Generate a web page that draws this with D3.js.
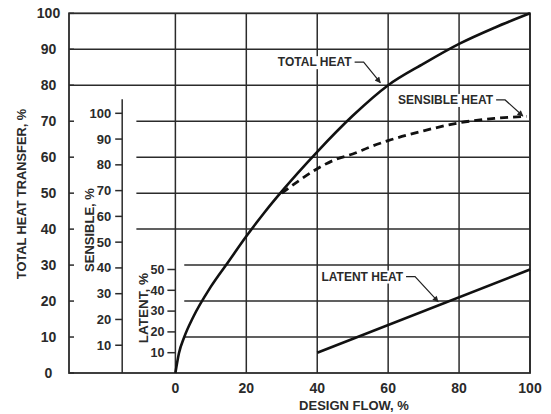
<!DOCTYPE html>
<html>
<head>
<meta charset="utf-8">
<script src="https://cdn.jsdelivr.net/npm/d3@7"></script>
<style>
  body { margin: 0; background: #fff; }
  svg text { font-family: "Liberation Sans", Arial, sans-serif; font-weight: bold; fill: #2a2a2a; }
</style>
</head>
<body>
<svg id="chart" width="551" height="414"></svg>
<script>
// values
var flowTicks = [0, 20, 40, 60, 80, 100];
var totalTicks = [0, 10, 20, 30, 40, 50, 60, 70, 80, 90, 100];
var sensibleTicks = [10, 20, 30, 40, 50, 60, 70, 80, 90, 100];
var latentTicks = [10, 20, 30, 40, 50];

var totalHeat = [[0, 0], [1, 5.5], [2.5, 10], [5, 15.5], [10, 24], [15, 31], [20, 38], [25, 44.5],
                 [30, 50.5], [40, 61.5], [50, 71.5], [60, 80], [70, 86], [80, 91.5], [90, 96], [100, 100]];
var sensibleHeat = [[30, 69], [35, 74], [40, 78.5], [45, 82], [50, 84.2], [55, 87], [60, 89.4],
                    [70, 93.2], [80, 96.3], [90, 98], [99, 98.8]];
var latentHeat = [[40, 10], [100, 50]];

var svg = d3.select("#chart");
var ink = "#2b2b2b";

// one x scale, three y scales (total / sensible / latent)
var x = d3.scaleLinear().domain([-30, 100]).range([69, 530]);
var yT = d3.scaleLinear().domain([0, 100]).range([373, 13.3]);
var yS = d3.scaleLinear().domain([0, 100]).range([371, 113.3]);
var yL = d3.scaleLinear().domain([0, 50]).range([373.5, 269.5]);

var grid = svg.append("g").attr("stroke", ink).attr("stroke-width", 1.5);

// horizontal grid: upper rows run the full width, lower ones stop short of the inner axes
function hRows(rows, from) {
    grid.selectAll(null).data(rows).enter().append("line")
        .attr("x1", x(from)).attr("x2", x(100))
        .attr("y1", d => yT(d)).attr("y2", d => yT(d));
}
hRows([80, 90], -30);
hRows([40, 50, 60, 70], -11);
hRows([10, 20, 30], 2.5);

// vertical grid
grid.selectAll(null).data(flowTicks).enter().append("line")
    .attr("x1", d => x(d)).attr("x2", d => x(d))
    .attr("y1", yT(0)).attr("y2", yT(100));

// frame
svg.append("rect")
   .attr("x", x(-30)).attr("y", yT(100))
   .attr("width", x(100) - x(-30)).attr("height", yT(0) - yT(100))
   .attr("fill", "none").attr("stroke", ink).attr("stroke-width", 1.8);

// outer (total) axis ticks + labels
grid.selectAll(null).data(totalTicks).enter().append("line")
    .attr("x1", x(-30)).attr("x2", x(-30) + 5)
    .attr("y1", d => yT(d)).attr("y2", d => yT(d));
svg.append("g").selectAll("text").data(totalTicks).enter().append("text")
   .attr("x", 48.5).attr("y", d => yT(d)).attr("dy", "0.35em")
   .attr("text-anchor", "middle").attr("font-size", 14)
   .text(d => d);

// sensible axis
grid.append("line")
    .attr("x1", x(-15)).attr("x2", x(-15))
    .attr("y1", yS(105.5)).attr("y2", yT(0));
grid.selectAll(null).data(sensibleTicks).enter().append("line")
    .attr("x1", x(-15) - 7).attr("x2", x(-15))
    .attr("y1", d => yS(d)).attr("y2", d => yS(d));
svg.append("g").selectAll("text").data(sensibleTicks).enter().append("text")
   .attr("x", x(-15) - 11).attr("y", d => yS(d)).attr("dy", "0.35em")
   .attr("text-anchor", "end").attr("font-size", 13)
   .text(d => d);

// latent axis (sits on the 0 % flow line)
grid.selectAll(null).data(latentTicks).enter().append("line")
    .attr("x1", x(0) - 8).attr("x2", x(0))
    .attr("y1", d => yL(d)).attr("y2", d => yL(d));
svg.append("g").selectAll("text").data(latentTicks).enter().append("text")
   .attr("x", x(0) - 11).attr("y", d => yL(d)).attr("dy", "0.35em")
   .attr("text-anchor", "end").attr("font-size", 12.5)
   .text(d => d);

// x labels
svg.append("g").selectAll("text").data(flowTicks).enter().append("text")
   .attr("x", d => x(d)).attr("y", 393)
   .attr("text-anchor", "middle").attr("font-size", 14)
   .text(d => d);
svg.append("text").attr("x", 354).attr("y", 410)
   .attr("text-anchor", "middle").attr("font-size", 13)
   .text("DESIGN FLOW, %");

// rotated axis titles
function vTitle(txt, cx, cy, size) {
    svg.append("text")
       .attr("transform", "translate(" + cx + "," + cy + ") rotate(-90)")
       .attr("text-anchor", "middle").attr("dy", "0.35em")
       .attr("font-size", size).text(txt);
}
vTitle("TOTAL HEAT TRANSFER, %", 22, 194, 12.8);
vTitle("SENSIBLE, %", 89, 230, 13);
vTitle("LATENT, %", 143, 308, 13.5);

// curves
var lineT = d3.line().x(d => x(d[0])).y(d => yT(d[1])).curve(d3.curveMonotoneX);
var lineS = d3.line().x(d => x(d[0])).y(d => yS(d[1])).curve(d3.curveMonotoneX);
var lineL = d3.line().x(d => x(d[0])).y(d => yL(d[1]));

svg.append("path").attr("d", lineT(totalHeat))
   .attr("fill", "none").attr("stroke", "#111").attr("stroke-width", 2.6);
svg.append("path").attr("d", lineS(sensibleHeat))
   .attr("fill", "none").attr("stroke", "#111").attr("stroke-width", 2.8)
   .attr("stroke-dasharray", "8,5");
svg.append("path").attr("d", lineL(latentHeat))
   .attr("fill", "none").attr("stroke", "#111").attr("stroke-width", 2.6);

// callouts: label end (flow %, total %) and the point the arrow hits
var callouts = [
    {text: "TOTAL HEAT", lx: 49.7, ly: 85.3, tx: 57.8, ty: yT.invert(82.7)},
    {text: "SENSIBLE HEAT", lx: 89.6, ly: 74.8, tx: 98, ty: yT.invert(116)},
    {text: "LATENT HEAT", lx: 64.2, ly: 25.7, tx: 74.1, ty: yT.invert(301.7)}
];

svg.append("defs").append("marker")
   .attr("id", "head").attr("viewBox", "0 0 10 10")
   .attr("refX", 9).attr("refY", 5)
   .attr("markerWidth", 8).attr("markerHeight", 6)
   .attr("markerUnits", "userSpaceOnUse")
   .attr("orient", "auto")
   .append("path").attr("d", "M0,0L10,5L0,10z").attr("fill", "#222");

callouts.forEach(function(c) {
    var px = x(c.lx), py = yT(c.ly);
    svg.append("rect")
       .attr("x", px - c.text.length * 7.2 - 2).attr("y", py - 10)
       .attr("width", c.text.length * 7.2 + 2).attr("height", 13)
       .attr("fill", "#fff");
    svg.append("text").attr("x", px).attr("y", py)
       .attr("text-anchor", "end").attr("font-size", 12)
       .text(c.text);
    var sx = px + 3, sy = py - 4;
    svg.append("path")
       .attr("d", "M" + sx + "," + sy + "H" + (sx + 9) + "L" + x(c.tx) + "," + yT(c.ty))
       .attr("fill", "none").attr("stroke", "#222").attr("stroke-width", 1.2)
       .attr("marker-end", "url(#head)");
});
</script>
</body>
</html>
